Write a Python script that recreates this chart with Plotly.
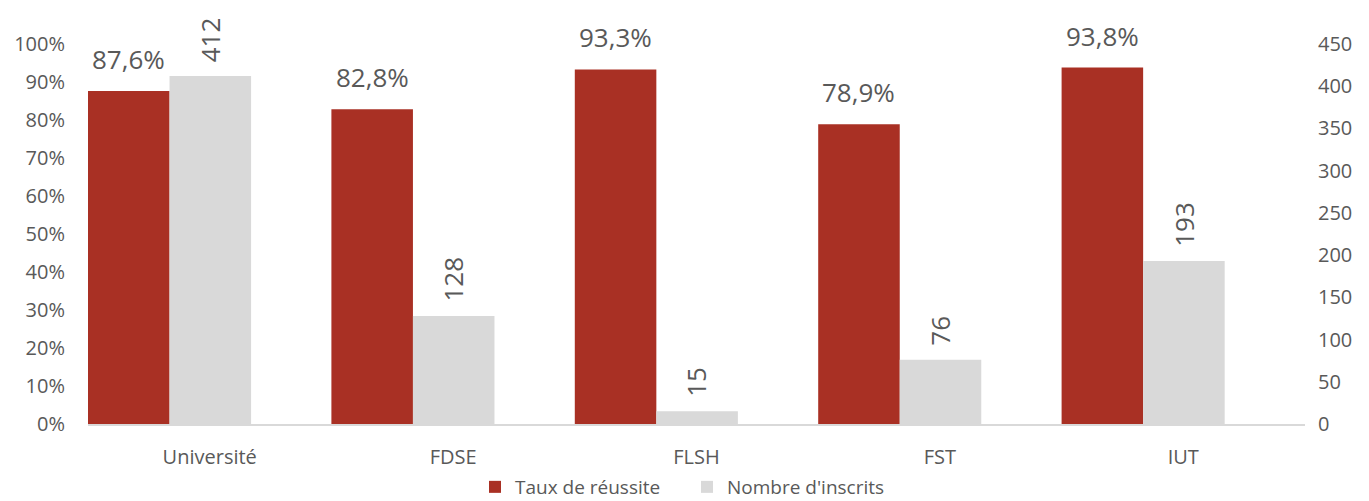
import plotly.graph_objects as go

categories = ["Université", "FDSE", "FLSH", "FST", "IUT"]
taux_reussite = [0.876, 0.828, 0.933, 0.789, 0.938]
nb_inscrits = [412, 128, 15, 76, 193]

FONT = "Open Sans, Noto Sans, sans-serif"
GREY_TEXT = "#595959"
W, H = 1369, 501
# plot area in pixels
X0, X1, Y_TOP, Y_BASE = 88, 1305, 44, 424
CAT_PX = (X1 - X0) / len(categories)
PLOT_H = Y_BASE - Y_TOP

fig = go.Figure()

# bars sit off-centre inside each category, like the Excel original
fig.add_trace(
    go.Bar(
        x=categories,
        y=taux_reussite,
        name="Taux de réussite",
        marker=dict(color="#A93024", line=dict(width=0)),
        width=0.335,
        offset=-0.5,
        yaxis="y",
        hoverinfo="skip",
    )
)

fig.add_trace(
    go.Bar(
        x=categories,
        y=nb_inscrits,
        name="Nombre d'inscrits",
        marker=dict(color="#D9D9D9", line=dict(width=0)),
        width=0.335,
        offset=-0.165,
        yaxis="y2",
        hoverinfo="skip",
    )
)

annotations = []
for cat, v in zip(categories, taux_reussite):
    annotations.append(
        dict(
            x=cat,
            y=v,
            xref="x",
            yref="y",
            text=f"{v * 100:.1f}%".replace(".", ","),
            showarrow=False,
            xanchor="center",
            yanchor="bottom",
            xshift=-0.333 * CAT_PX,
            yshift=12,
            font=dict(size=26, color=GREY_TEXT),
        )
    )
for cat, v in zip(categories, nb_inscrits):
    annotations.append(
        dict(
            x=cat,
            y=v,
            xref="x",
            yref="y2",
            text=str(v),
            showarrow=False,
            textangle=-90,
            xanchor="center",
            yanchor="bottom",
            yshift=12,
            font=dict(size=26, color=GREY_TEXT),
        )
    )

fig.update_layout(
    width=W,
    height=H,
    margin=dict(l=X0, r=W - X1, t=Y_TOP, b=H - Y_BASE, autoexpand=False),
    plot_bgcolor="white",
    paper_bgcolor="white",
    font=dict(family=FONT, size=20, color=GREY_TEXT),
    barmode="overlay",
    annotations=annotations,
    xaxis=dict(
        range=[-0.5, len(categories) - 0.5],
        showline=True,
        linecolor="#D9D9D9",
        linewidth=1.5,
        ticks="",
        tickfont=dict(size=20),
        ticklabelstandoff=14,
        automargin=False,
        fixedrange=True,
    ),
    yaxis=dict(
        range=[0, 1],
        dtick=0.1,
        tickformat=".0%",
        showgrid=False,
        zeroline=False,
        tickfont=dict(size=20),
        ticklabelstandoff=22,
        automargin=False,
        fixedrange=True,
    ),
    yaxis2=dict(
        range=[0, 450],
        dtick=50,
        overlaying="y",
        side="right",
        showgrid=False,
        zeroline=False,
        tickfont=dict(size=20),
        ticklabelstandoff=12,
        automargin=False,
        fixedrange=True,
    ),
    legend=dict(
        orientation="h",
        x=(475 - X0) / (X1 - X0),
        xanchor="left",
        y=(Y_BASE - 487) / PLOT_H,
        yanchor="middle",
        font=dict(size=19),
        itemwidth=30,
        entrywidth=167,
        entrywidthmode="pixels",
        bgcolor="rgba(0,0,0,0)",
    ),
)

# the page has the default 8px body margin; drop it so the figure sits at 0,0
fig.write_html(
    "out.html",
    config={"displayModeBar": False},
    post_script="document.body.style.margin = '0';",
)
